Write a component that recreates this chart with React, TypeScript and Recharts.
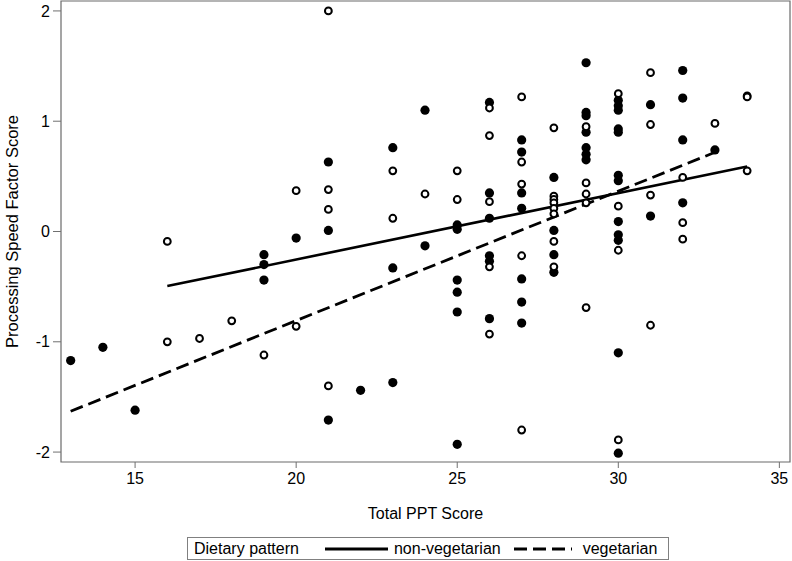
import React from 'react';
import { ComposedChart, Scatter, Line, XAxis, YAxis, ReferenceArea, Legend } from 'recharts';

const FONT = '"Liberation Sans", Arial, Helvetica, sans-serif';

const xTicks = [15, 20, 25, 30, 35];
const yTicks = [-2, -1, 0, 1, 2];
const xDomain: [number, number] = [12.7, 35.33];
const yDomain: [number, number] = [-2.09, 2.09];

const xTitle = 'Total PPT Score';
const yTitle = 'Processing Speed Factor Score';
const legendTitle = 'Dietary pattern';
const seriesNames = ['non-vegetarian', 'vegetarian'];

// non-vegetarian (filled circles)
const nonVegPoints: [number, number][] = [
  [13, -1.17], [14, -1.05], [15, -1.62],
  [19, -0.21], [19, -0.3], [19, -0.44],
  [20, -0.06],
  [21, 0.63], [21, 0.01], [21, -1.71],
  [22, -1.44],
  [23, 0.76], [23, -0.33], [23, -1.37],
  [24, 1.1], [24, -0.13],
  [25, 0.06], [25, 0.02], [25, -0.44], [25, -0.55], [25, -0.73], [25, -1.93],
  [26, 1.17], [26, 0.35], [26, 0.12], [26, -0.22], [26, -0.27], [26, -0.79],
  [27, 0.83], [27, 0.72], [27, 0.35], [27, 0.21], [27, -0.43], [27, -0.64], [27, -0.83],
  [28, 0.49], [28, 0.01], [28, -0.21], [28, -0.37],
  [29, 1.53], [29, 1.08], [29, 1.05], [29, 0.9], [29, 0.76], [29, 0.7], [29, 0.65],
  [30, 1.19], [30, 1.14], [30, 1.1], [30, 0.93], [30, 0.9], [30, 0.51], [30, 0.46],
  [30, 0.09], [30, -0.03], [30, -0.08], [30, -1.1], [30, -2.01],
  [31, 1.15], [31, 0.14],
  [32, 1.46], [32, 1.21], [32, 0.83], [32, 0.26],
  [33, 0.74],
];

// vegetarian (open circles)
const vegPoints: [number, number][] = [
  [16, -0.09], [16, -1.0], [17, -0.97], [18, -0.81], [19, -1.12],
  [20, 0.37], [20, -0.86],
  [21, 2.0], [21, 0.38], [21, 0.2], [21, -1.4],
  [23, 0.55], [23, 0.12],
  [24, 0.34],
  [25, 0.55], [25, 0.29],
  [26, 1.12], [26, 0.87], [26, 0.27], [26, -0.32], [26, -0.93],
  [27, 1.22], [27, 0.63], [27, 0.43], [27, -0.22], [27, -1.8],
  [28, 0.94], [28, 0.32], [28, 0.29], [28, 0.26], [28, 0.21], [28, 0.16], [28, -0.09], [28, -0.32],
  [29, 0.95], [29, 0.44], [29, 0.34], [29, 0.26], [29, -0.69],
  [30, 1.25], [30, 0.23], [30, -0.17], [30, -1.89],
  [31, 1.44], [31, 0.97], [31, 0.33], [31, -0.85],
  [32, 0.49], [32, 0.08], [32, -0.07],
  [33, 0.98],
  [34, 1.23], [34, 1.22], [34, 0.55],
];

// fitted regression lines (end points)
const nonVegFit: [number, number][] = [[16, -0.495], [34, 0.589]];
const vegFit: [number, number][] = [[13, -1.63], [33, 0.718]];

const toXY = (arr: [number, number][]) => arr.map(([x, y]) => ({ x, y }));

const FilledDot = (props: any) => (
  <circle cx={props.cx} cy={props.cy} r={4.6} fill="#000" />
);
const OpenDot = (props: any) => (
  <circle cx={props.cx} cy={props.cy} r={3.4} fill="#fff" stroke="#000" strokeWidth={2} />
);

const LegendBox = () => (
  <div
    style={{
      width: 482,
      height: 23,
      border: '1px solid #808080',
      boxSizing: 'border-box',
      display: 'flex',
      alignItems: 'center',
      fontFamily: FONT,
      fontSize: 16,
      color: '#000',
      whiteSpace: 'nowrap',
      background: '#fff',
    }}
  >
    <span style={{ marginLeft: 6 }}>{legendTitle}</span>
    <svg width={63} height={10} style={{ marginLeft: 26 }}>
      <line x1={0} y1={5} x2={63} y2={5} stroke="#000" strokeWidth={3} />
    </svg>
    <span style={{ marginLeft: 6 }}>{seriesNames[0]}</span>
    <svg width={58} height={10} style={{ marginLeft: 13 }}>
      <line x1={0} y1={5} x2={58} y2={5} stroke="#000" strokeWidth={3} strokeDasharray="13 6" />
    </svg>
    <span style={{ marginLeft: 11 }}>{seriesNames[1]}</span>
  </div>
);

export default function App() {
  return (
    <div style={{ position: 'absolute', left: 0, top: 0, width: 792, height: 561, background: '#fff' }}>
      <ComposedChart width={792} height={561} margin={{ top: 1, right: 2, left: 0, bottom: 1 }}>
        <XAxis
          type="number"
          dataKey="x"
          domain={xDomain}
          ticks={xTicks}
          allowDataOverflow
          height={75}
          axisLine={false}
          tickLine={{ stroke: '#707070' }}
          tickSize={6}
          tickMargin={5}
          tick={{ fill: '#000', fontSize: 16, fontFamily: FONT }}
          label={{ value: xTitle, position: 'insideBottom', offset: 18, fill: '#000', fontSize: 16, fontFamily: FONT }}
        />
        <YAxis
          type="number"
          dataKey="y"
          domain={yDomain}
          ticks={yTicks}
          allowDataOverflow
          width={61}
          axisLine={false}
          tickLine={{ stroke: '#707070' }}
          tickSize={8}
          tickMargin={3}
          tick={{ fill: '#000', fontSize: 16, fontFamily: FONT }}
          label={{
            value: yTitle,
            angle: -90,
            position: 'insideLeft',
            offset: 12,
            fill: '#000',
            fontSize: 16.5,
            fontFamily: FONT,
            style: { textAnchor: 'middle' },
          }}
        />
        <ReferenceArea
          x1={xDomain[0]}
          x2={xDomain[1]}
          y1={yDomain[0]}
          y2={yDomain[1]}
          fill="none"
          fillOpacity={0}
          stroke="#6a6a6a"
          strokeWidth={1.2}
          ifOverflow="visible"
        />
        <Line
          data={toXY(nonVegFit)}
          dataKey="y"
          type="linear"
          stroke="#000"
          strokeWidth={2.6}
          dot={false}
          activeDot={false}
          isAnimationActive={false}
          legendType="none"
        />
        <Line
          data={toXY(vegFit)}
          dataKey="y"
          type="linear"
          stroke="#000"
          strokeWidth={2.8}
          strokeDasharray="13 6"
          dot={false}
          activeDot={false}
          isAnimationActive={false}
          legendType="none"
        />
        <Scatter data={toXY(nonVegPoints)} dataKey="y" shape={FilledDot} isAnimationActive={false} />
        <Scatter data={toXY(vegPoints)} dataKey="y" shape={OpenDot} isAnimationActive={false} />
        <Legend
          verticalAlign="bottom"
          align="left"
          content={() => <LegendBox />}
          wrapperStyle={{ left: 187, width: 482, bottom: 1 }}
        />
      </ComposedChart>
    </div>
  );
}
